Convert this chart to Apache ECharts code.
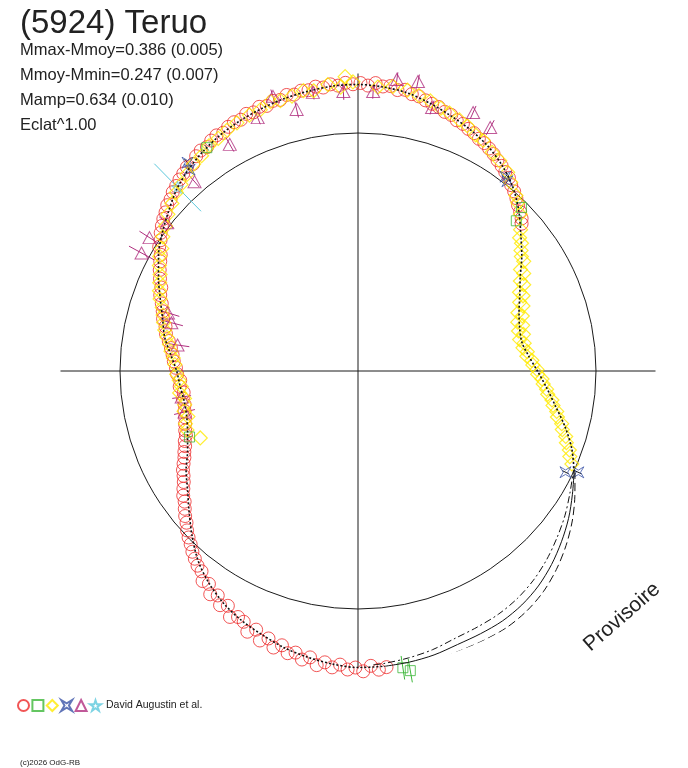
<!DOCTYPE html>
<html lang="fr" style="height: 100%">
<head>
  <meta charset="utf-8">
  <title>(5924) Teruo</title>
</head>
<body style="height: 100%; margin: 0; background: #ffffff">
  <div id="container" style="width: 688px;height: 768px"></div>

  <script type="text/javascript" src="https://cdn.jsdelivr.net/npm/echarts@6.0.0/dist/echarts.min.js"></script>

  <script type="text/javascript">
    var dom = document.getElementById('container');
    var myChart = echarts.init(dom, null, { renderer: 'canvas' });

// fitted light curve, radius relative to the reference circle (=1), angle in degrees
const fitAngle = [-180, -175, -170, -165, -160, -155, -150, -145, -140, -135, -130, -125,
                  -120, -115, -110, -105, -100, -95, -90, -85, -80, -75, -70, -65,
                  -60, -55, -50, -45, -40, -35, -30, -25, -20, -15, -10, -5,
                  0, 5, 10, 15, 20, 25, 30, 35, 40, 45, 50, 55,
                  60, 65, 70, 75, 80, 85, 90, 95, 100, 105, 110, 115,
                  120, 125, 130, 135, 140, 145, 150, 155, 160, 165, 170, 175, 180];
const fitRadius = [0.762, 0.750, 0.741, 0.745, 0.762, 0.790, 0.834, 0.874, 0.926, 0.985, 1.044, 1.090,
                   1.128, 1.157, 1.179, 1.203, 1.221, 1.236, 1.246, 1.246, 1.242, 1.235, 1.223, 1.218,
                   1.213, 1.200, 1.179, 1.150, 1.116, 1.080, 1.040, 1.002, 0.956, 0.900, 0.842, 0.795,
                   0.754, 0.720, 0.699, 0.703, 0.720, 0.750, 0.787, 0.840, 0.893, 0.955, 1.011, 1.055,
                   1.091, 1.118, 1.141, 1.165, 1.187, 1.198, 1.204, 1.202, 1.194, 1.186, 1.175, 1.163,
                   1.149, 1.130, 1.107, 1.078, 1.040, 1.005, 0.968, 0.925, 0.884, 0.850, 0.825, 0.790, 0.762];
// uncertainty envelope over the phase gap
const envAngle = [-87, -85, -80, -75, -70, -65, -60, -55, -50, -45, -40, -35, -30, -25];
const envOuter = [1.258, 1.260, 1.262, 1.259, 1.251, 1.249, 1.246, 1.233, 1.211, 1.179, 1.141, 1.099, 1.052, 1.006];
const envInner = [1.236, 1.234, 1.224, 1.212, 1.195, 1.187, 1.180, 1.167, 1.147, 1.121, 1.091, 1.061, 1.028, 0.998];
const gapFrom = -85, gapTo = -25;

// observations [radius, angle]
const redPts = [
  [1.250,-84.5],[1.258,-86],[1.240,-87.5],[1.262,-89],[1.246,-90.5],[1.255,-92],[1.236,-93.5],[1.250,-95],
  [1.232,-96.5],[1.248,-98],[1.220,-99.5],[1.235,-101],[1.212,-102.5],[1.222,-104],[1.196,-105.5],[1.215,-107],
  [1.185,-108.5],[1.205,-110],[1.168,-111.5],[1.190,-113],[1.158,-114.5],[1.150,-116],[1.165,-117.5],[1.128,-119],
  [1.142,-120.5],[1.112,-122],[1.125,-123.5],[1.092,-125],[1.098,-126.5],[1.068,-128],[1.060,-129.5],[1.045,-131],
  [1.030,-132.5],[1.012,-134],[0.998,-135.5],[0.982,-137],[0.962,-138.5],[0.948,-140],[0.930,-141.5],[0.912,-143],
  [0.902,-144.5],[0.885,-146],[0.868,-147.5],[0.855,-149],[0.845,-150.5],[0.830,-152],[0.815,-153.5],[0.805,-155],
  [0.792,-156.5],[0.785,-158],[0.772,-159.5],[0.768,-161],
  [0.760,-163],[0.752,-165],[0.748,-167],[0.742,-169],[0.745,-171],[0.738,-173],[0.752,-175],[0.748,-177],
  [0.760,-179],[0.765,179],[0.775,177],[0.782,175],[0.792,173],[0.805,171],[0.822,169],[0.830,167],
  [0.848,165],[0.858,163],[0.872,161],[0.890,159],[0.898,157],[0.918,155],[0.935,153],[0.950,151],
  [0.962,149.5],[0.985,148],[0.995,146.5],[1.012,145],[1.025,143.5],[1.038,142],
  [1.048,140.5],[1.062,139],[1.068,137.5],[1.082,136],[1.090,134.5],[1.100,133],[1.108,131.5],[1.118,130],
  [1.112,128.5],[1.130,127],[1.138,125.5],[1.135,124],[1.148,122.5],[1.155,121],[1.150,119.5],[1.162,118],
  [1.168,116.5],[1.165,115],[1.178,113.5],[1.172,112],[1.185,110.5],[1.178,109],[1.190,107.5],[1.185,106],
  [1.198,104.5],[1.192,103],[1.202,101.5],[1.198,100],[1.208,98.5],[1.200,97],[1.210,95.5],[1.202,94],
  [1.212,92.5],[1.205,91],[1.210,89.5],[1.200,88],[1.212,86.5],[1.200,85],[1.205,83.5],[1.192,82],
  [1.198,80.5],[1.185,79],[1.182,77.5],[1.172,76],[1.165,74.5],[1.160,73],[1.148,71.5],[1.145,70],
  [1.132,68.5],[1.128,67],[1.118,65.5],[1.112,64],[1.100,62.5],[1.095,61],[1.085,59.5],[1.075,58],
  [1.062,56.5],[1.052,55],[1.040,53.5],[1.030,52],[1.012,50.5],[1.000,49],[0.985,47.5],[0.968,46],
  [0.955,44.5],[0.940,43],[0.925,42]
];
const yellowPts = [
  [0.905,41],[0.880,39.5],[0.872,38],[0.852,36.5],[0.838,35],[0.835,33.5],[0.805,32],[0.808,30.5],
  [0.780,29],[0.785,27.5],[0.755,26],[0.762,24.5],[0.738,23],[0.745,21.5],[0.715,20],[0.728,18.5],
  [0.702,17],[0.718,15.5],[0.695,14],[0.712,12.5],[0.692,11],[0.708,9.5],[0.700,8],[0.716,6.5],
  [0.712,5],[0.732,3.5],[0.735,2],[0.752,0.5],[0.755,-1],[0.774,-2.5],[0.780,-4],[0.796,-5.5],
  [0.803,-7],[0.824,-8.5],[0.832,-10],[0.852,-11.5],[0.860,-13],[0.884,-14.5],[0.893,-16],[0.915,-17.5],
  [0.926,-19],[0.948,-20.5],[0.960,-22],[0.980,-23.5],
  [0.948,44],[0.975,46.5],[0.992,48],[1.020,51],[1.045,53],[1.065,56],[1.078,58.5],[1.102,61.5],
  [1.108,63.5],[1.128,66],[1.138,68],[1.150,70.5],[1.158,72.5],[1.175,75],[1.185,77.5],[1.198,80],
  [1.205,83],[1.196,86],[1.238,92.5],[1.215,91],[1.195,93.5],[1.210,96],[1.192,99],[1.200,101],
  [1.188,103.5],[1.182,106],[1.190,108],[1.172,110.5],[1.168,113],[1.160,116],[1.152,118.5],[1.140,121],
  [1.135,123.5],[1.118,126],[1.110,128.5],[1.095,131],[1.080,133.5],[1.070,135.5],[1.052,138],[1.035,140.5],
  [1.012,143],[0.995,145.5],[0.972,148],[0.962,150],[0.945,152],[0.925,154],[0.912,156],[0.900,158],
  [0.885,160],[0.865,162],[0.852,164],[0.842,166],[0.830,168],[0.815,170],[0.800,172],[0.790,174],
  [0.778,176],[0.770,178],[0.762,-179],[0.752,-177],[0.745,-175],[0.755,-173],[0.738,-171],[0.742,-169],
  [0.750,-167],[0.740,-165],[0.758,-163],[0.760,-161],[0.720,-157]
];
const greenPts = [[1.133,124.1,0.015],[0.971,45,0.01],[0.917,43.5,0.01],[0.760,-158.6,0.015],[1.261,-81.4,0.05],[1.278,-80.1,0.05]];
const bluePts = [[1.131,129.3,0.02],[1.103,129.9,0.02],[1.025,52.8,0.015],[1.015,51.8,0.015],[0.970,-26,0.015],[1.019,-24.7,0.015]];
const purplePts = [
  [1.040,147.4,0.05],[1.036,151.4,0.06],[0.835,163,0.05],[0.810,165.5,0.05],[0.766,171.8,0.05],[0.749,-171.6,0.04],
  [0.749,-166.7,0.045],[1.051,130.8,0.03],[1.017,142.2,0.04],[1.094,119.5,0.035],[1.145,111.6,0.03],[1.208,107.2,0.03],
  [1.129,103.2,0.035],[1.186,99.2,0.03],[1.176,93,0.035],[1.176,86.9,0.03],[1.236,82.4,0.03],[1.242,78.3,0.03],
  [1.150,74.3,0.03],[1.189,66,0.03],[1.164,61.5,0.035]
];
const cyanPts = [[1.081,134.5,0.14]];

const titleText = '(5924) Teruo';
const statLines = ['Mmax-Mmoy=0.386 (0.005)', 'Mmoy-Mmin=0.247 (0.007)', 'Mamp=0.634 (0.010)', 'Eclat^1.00'];
const sourceText = 'David Augustin et al.';

var dottedFit = [], gapFit = [];
fitAngle.forEach(function (a, i) { if (a >= gapTo) dottedFit.push([fitRadius[i], a]); });
fitAngle.forEach(function (a, i) { if (a <= gapFrom) dottedFit.push([fitRadius[i], a]); });
fitAngle.forEach(function (a, i) { if (a >= gapFrom && a <= gapTo) gapFit.push([fitRadius[i], a]); });
var outerEnv = envAngle.map(function (a, i) { return [envOuter[i], a]; });
var innerEnv = envAngle.map(function (a, i) { return [envInner[i], a]; });

function pts(list) { return list.map(function (p) { return [p[0], p[1]]; }); }

function hollow(name, symbol, size, color, data, bw) {
  return {
    name: name, type: 'scatter', coordinateSystem: 'polar', clip: false,
    symbol: symbol, symbolSize: size, data: data, z: 3,
    itemStyle: { color: 'rgba(0,0,0,0)', borderColor: color, borderWidth: bw || 1 }
  };
}
function bars(color, data) {
  return {
    type: 'custom', coordinateSystem: 'polar', clip: false, data: data, z: 2,
    renderItem: function (params, api) {
      var r = api.value(0), a = api.value(1), e = api.value(2);
      var p1 = api.coord([r - e, a]);
      var p2 = api.coord([r + e, a]);
      return { type: 'line', shape: { x1: p1[0], y1: p1[1], x2: p2[0], y2: p2[1] },
               style: { stroke: color, lineWidth: 1 } };
    }
  };
}
function curve(data, type, width) {
  return {
    type: 'line', coordinateSystem: 'polar', clip: false, data: data, smooth: 0.3,
    showSymbol: false, z: 5,
    lineStyle: { color: '#111', width: width, type: type }
  };
}

var ring = 'rgba(0,0,0,0)';
var textFont = '"Liberation Sans", Arial, sans-serif';
option = {
  animation: false,
  backgroundColor: '#ffffff',
  polar: { center: [358, 371], radius: 297.5 },
  angleAxis: {
    type: 'value', min: -180, max: 180, interval: 90, startAngle: 180, clockwise: false,
    axisLine: { show: false }, axisTick: { show: false }, axisLabel: { show: false },
    splitLine: { show: true, lineStyle: { color: '#1a1a1a', width: 1 } }
  },
  radiusAxis: {
    type: 'value', min: 0, max: 1.25, interval: 0.25,
    axisLine: { show: false }, axisTick: { show: false }, axisLabel: { show: false },
    splitLine: { show: true, lineStyle: { color: [ring, ring, ring, ring, '#1a1a1a', ring], width: 1 } }
  },
  legend: {
    left: 17, top: 699, padding: 0, orient: 'horizontal', selectedMode: false,
    itemWidth: 11, itemHeight: 11, itemGap: 1.4,
    data: ['o', 'sq', 'di', 'bw', 'tr', 'st'],
    formatter: function (name) { return name === 'st' ? sourceText : ''; },
    textStyle: { fontFamily: 'Liberation Sans', fontSize: 10.5, color: '#222' }
  },
  graphic: [
    { type: 'text', x: 20, y: 24, style: { text: titleText, font: '33px ' + textFont, fill: '#222', textVerticalAlign: 'middle' } },
    { type: 'text', x: 20, y: 50, style: { text: statLines[0], font: '16.5px ' + textFont, fill: '#222', textVerticalAlign: 'middle' } },
    { type: 'text', x: 20, y: 75, style: { text: statLines[1], font: '16.5px ' + textFont, fill: '#222', textVerticalAlign: 'middle' } },
    { type: 'text', x: 20, y: 100, style: { text: statLines[2], font: '16.5px ' + textFont, fill: '#222', textVerticalAlign: 'middle' } },
    { type: 'text', x: 20, y: 125, style: { text: statLines[3], font: '16.5px ' + textFont, fill: '#222', textVerticalAlign: 'middle' } },
    { type: 'text', x: 622, y: 617, rotation: 41 * Math.PI / 180,
      style: { text: 'Provisoire', font: '21px ' + textFont, fill: '#222', textAlign: 'center', textVerticalAlign: 'middle' } },
    { type: 'text', x: 20, y: 763, style: { text: '(c)2026 OdG-RB', font: '8px ' + textFont, fill: '#222', textVerticalAlign: 'middle' } }
  ],
  series: [
    hollow('o', 'circle', 13, '#ee2b2b', redPts),
    hollow('di', 'diamond', 14, '#ffea00', pts(yellowPts), 1.2),
    bars('#b0307f', purplePts),
    hollow('tr', 'triangle', [13, 12], '#b0307f', pts(purplePts)),
    bars('#3db83a', greenPts),
    hollow('sq', 'rect', 10, '#3db83a', pts(greenPts)),
    bars('#1a1a1a', bluePts),
    hollow('bw', 'path://M0,0 L5,3 L10,0 L7,5 L10,10 L5,7 L0,10 L3,5 Z', 11, '#3a52a6', pts(bluePts)),
    bars('#5cc8dc', cyanPts),
    hollow('st', 'path://M5,0 L6.2,3.6 L10,3.6 L6.9,5.8 L8.1,9.5 L5,7.2 L1.9,9.5 L3.1,5.8 L0,3.6 L3.8,3.6 Z', 12, '#5cc8dc', pts(cyanPts)),
    curve(dottedFit, [2, 2], 1.6),
    curve(gapFit, 'solid', 1),
    curve(outerEnv, [8, 4], 1),
    curve(innerEnv, [7, 3, 2, 3], 1)
  ]
};

    if (option && typeof option === 'object') {
      myChart.setOption(option);
    }

    window.addEventListener('resize', myChart.resize);
  </script>
</body>
</html>
